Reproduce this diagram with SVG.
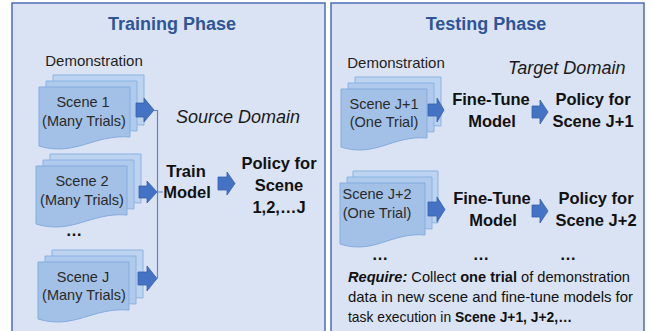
<svg xmlns="http://www.w3.org/2000/svg" width="652" height="331" viewBox="0 0 652 331">
<style>
.panel{fill:#dae3f3;stroke:#4a6eb5;stroke-width:1.5}
.title{font-family:"Liberation Sans",Arial,sans-serif;font-weight:bold;font-size:18px;fill:#2f5597;text-anchor:middle}
.lbl{font-family:"Liberation Sans",Arial,sans-serif;font-size:15px;fill:#1f1f1f;text-anchor:middle}
.doctext{font-family:"Liberation Sans",Arial,sans-serif;font-size:14.5px;fill:#2a2a2a;text-anchor:middle}
.bold{font-family:"Liberation Sans",Arial,sans-serif;font-weight:bold;font-size:16.5px;fill:#111;text-anchor:middle}
.dom{font-family:"Liberation Sans",Arial,sans-serif;font-style:italic;font-size:18px;fill:#1a1a1a}
.req{font-family:"Liberation Sans",Arial,sans-serif;font-size:15px;fill:#111}
.back{fill:#bcd4ef;stroke:#8cb2e0;stroke-width:1}
.mid{fill:#afcaec;stroke:#8cb2e0;stroke-width:1}
.front{fill:#a3c1e7;stroke:#84abdf;stroke-width:1}
.arrow{fill:#4472c4;stroke:#3560ab;stroke-width:0.8}
.conn{fill:none;stroke:#5a86d0;stroke-width:1.2}
</style>

<g id="training-panel">
<rect class="panel" x="12" y="3" width="313" height="340"/>
<text class="title" x="172" y="30">Training Phase</text>
<text class="lbl" x="94" y="66">Demonstration</text>
<text class="dom" x="176" y="123">Source Domain</text>
</g>

<g id="testing-panel">
<rect class="panel" x="331" y="3" width="313" height="340"/>
<text class="title" x="486" y="30">Testing Phase</text>
<text class="lbl" x="396" y="68">Demonstration</text>
<text class="dom" x="508" y="74">Target Domain</text>
</g>

<g id="scene1">
<path class="back" d="M53,75 H144 V125 C107.6,122 89.4,145 53,134 Z"/>
<path class="mid" d="M46,81 H137 V131 C100.6,128 82.4,151 46,140 Z"/>
<path class="front" d="M39,87 H130 V137 C93.6,134 75.4,157 39,146 Z"/>
<text class="doctext" x="83" y="107">Scene 1</text>
<text class="doctext" x="84" y="126">(Many Trials)</text>
</g>

<g id="scene2">
<path class="back" d="M50,154 H141 V203 C104.6,200 86.4,223 50,212 Z"/>
<path class="mid" d="M43,160 H134 V209 C97.6,206 79.4,229 43,218 Z"/>
<path class="front" d="M36,166 H127 V215 C90.6,212 72.4,235 36,224 Z"/>
<text class="doctext" x="82" y="186">Scene 2</text>
<text class="doctext" x="82" y="205">(Many Trials)</text>
</g>

<g id="dots-left">
<text class="bold" x="74" y="236">…</text>
</g>

<g id="sceneJ">
<path class="back" d="M52,250 H143 V298 C106.6,295 88.4,318 52,307 Z"/>
<path class="mid" d="M45,256 H136 V304 C99.6,301 81.4,324 45,313 Z"/>
<path class="front" d="M38,262 H129 V310 C92.6,307 74.4,330 38,319 Z"/>
<text class="doctext" x="83" y="282">Scene J</text>
<text class="doctext" x="84" y="300">(Many Trials)</text>
</g>

<g id="train-model">
<text class="bold" x="186" y="177">Train</text>
<text class="bold" x="187" y="198">Model</text>
</g>

<g id="policy-source">
<text class="bold" x="279" y="169">Policy for</text>
<text class="bold" x="279" y="191">Scene</text>
<text class="bold" x="279" y="213">1,2,…J</text>
</g>

<g id="sceneJ1">
<path class="back" d="M355,77 H441 V126 C406.6,123 389.4,146 355,135 Z"/>
<path class="mid" d="M348,83 H434 V132 C399.6,129 382.4,152 348,141 Z"/>
<path class="front" d="M341,89 H427 V138 C392.6,135 375.4,158 341,147 Z"/>
<text class="doctext" x="384" y="109">Scene J+1</text>
<text class="doctext" x="384" y="127">(One Trial)</text>
</g>

<g id="finetune1">
<text class="bold" x="491" y="105">Fine-Tune</text>
<text class="bold" x="492" y="127">Model</text>
</g>

<g id="policyJ1">
<text class="bold" x="593" y="105">Policy for</text>
<text class="bold" x="593" y="127">Scene J+1</text>
</g>

<g id="sceneJ2">
<path class="back" d="M353,171 H438 V223 C404,220 387,243 353,232 Z"/>
<path class="mid" d="M347,177 H432 V229 C398,226 381,249 347,238 Z"/>
<path class="front" d="M340,183 H425 V235 C391,232 374,255 340,244 Z"/>
<text class="doctext" x="377" y="199">Scene J+2</text>
<text class="doctext" x="377" y="218">(One Trial)</text>
</g>

<g id="finetune2">
<text class="bold" x="492" y="204">Fine-Tune</text>
<text class="bold" x="493" y="226">Model</text>
</g>

<g id="policyJ2">
<text class="bold" x="596" y="204">Policy for</text>
<text class="bold" x="596" y="226">Scene J+2</text>
</g>

<g id="dots-right">
<text class="bold" x="380" y="260">…</text>
<text class="bold" x="481" y="260">…</text>
<text class="bold" x="568" y="260">…</text>
</g>

<g id="require-note">
<text class="req" x="348" y="282" textLength="282" lengthAdjust="spacingAndGlyphs"><tspan font-weight="bold" font-style="italic">Require:</tspan> Collect <tspan font-weight="bold">one trial</tspan> of demonstration</text>
<text class="req" x="348" y="302" textLength="285" lengthAdjust="spacingAndGlyphs">data in new scene and fine-tune models for</text>
<text class="req" x="348" y="322" textLength="224" lengthAdjust="spacingAndGlyphs">task execution in <tspan font-weight="bold">Scene J+1, J+2,…</tspan></text>
</g>

<g id="connectors">
<polygon class="arrow" points="136,103 144,103 144,98 154,110 144,122 144,117 136,117"/>
<polygon class="arrow" points="139,186 147,186 147,181 157,192 147,203 147,198 139,198"/>
<polygon class="arrow" points="138,272 147,272 147,266 157,278.5 147,291 147,285 138,285"/>
<path class="conn" d="M154,110.5 H157.5 V278.5 M157.5,192 H163"/>
<polygon class="arrow" points="218,177 227,177 227,172 235,183.5 227,195 227,190 218,190"/>
<polygon class="arrow" points="428,104 437,104 437,98 444,110 437,122 437,116 428,116"/>
<polygon class="arrow" points="532,106 540,106 540,100 548,112 540,124 540,118 532,118"/>
<polygon class="arrow" points="428,202 437,202 437,197 445,209.5 437,222 437,216 428,216"/>
<polygon class="arrow" points="532,205 540,205 540,199 548,211 540,223 540,217 532,217"/>
</g>
</svg>
